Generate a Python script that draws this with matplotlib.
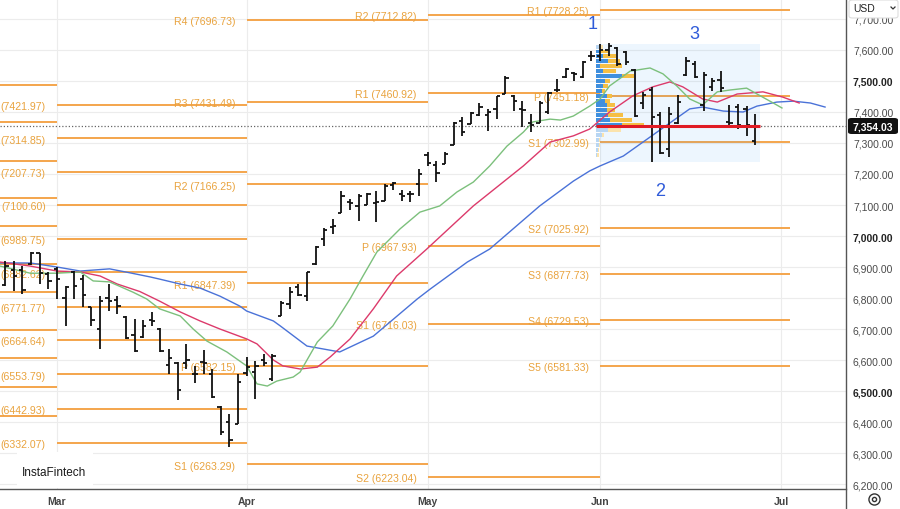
import matplotlib.pyplot as plt
from matplotlib.lines import Line2D
from matplotlib.patches import Rectangle, FancyBboxPatch

plt.rcParams['font.family'] = ['Liberation Sans', 'DejaVu Sans']

# bar index 0 = first trading day of March; negative = late February
bar_idx = list(range(-6, 82))
opens = [6842, 6890, 6890, 6910, 6945, 6878,
         6895, 6800, 6885, 6860, 6770, 6700, 6800, 6795, 6740, 6680, 6675, 6730, 6700, 6584, 6590, 6590,
         6555, 6594, 6555, 6450, 6400, 6394,
         6558, 6560, 6600, 6540, 6742, 6780, 6835, 6806, 6910, 6990, 7030, 7074, 7110, 7097, 7100, 7106,
         7113, 7165, 7135, 7135, 7168,
         7260, 7230, 7232, 7294, 7370, 7361, 7390, 7390, 7410, 7458, 7452, 7410, 7365, 7364, 7400, 7470,
         7513, 7525, 7513, 7580,
         7580, 7600, 7605, 7595, 7535, 7430, 7470, 7390, 7280, 7365, 7519, 7555, 7423, 7480, 7503, 7368,
         7416, 7410, 7306]
highs = [6919, 6919, 6903, 6950, 6945, 6885,
         6900, 6839, 6887, 6875, 6771, 6806, 6845, 6806, 6742, 6732, 6729, 6755, 6703, 6635, 6594, 6652,
         6581, 6632, 6571, 6452, 6426, 6555,
         6610, 6597, 6619, 6619, 6790, 6835, 6845, 6884, 6968, 7026, 7055, 7145, 7120, 7135, 7139, 7145,
         7168, 7174, 7148, 7145, 7216,
         7271, 7242, 7271, 7368, 7384, 7400, 7429, 7410, 7452, 7516, 7455, 7435, 7394, 7435, 7465, 7507,
         7542, 7529, 7565, 7597,
         7620, 7623, 7610, 7597, 7539, 7465, 7481, 7400, 7416, 7455, 7577, 7565, 7529, 7510, 7532, 7423,
         7426, 7420, 7394]
lows = [6839, 6822, 6813, 6905, 6845, 6830,
        6797, 6710, 6797, 6770, 6710, 6635, 6758, 6748, 6668, 6626, 6671, 6710, 6626, 6555, 6471, 6571,
        6526, 6555, 6477, 6358, 6319, 6394,
        6548, 6474, 6581, 6532, 6742, 6765, 6806, 6790, 6906, 6968, 7006, 7074, 7084, 7048, 7100, 7045,
        7113, 7148, 7113, 7110, 7129,
        7226, 7174, 7232, 7294, 7323, 7361, 7387, 7339, 7377, 7458, 7403, 7352, 7335, 7364, 7394, 7464,
        7510, 7500, 7510, 7565,
        7565, 7580, 7548, 7552, 7384, 7410, 7239, 7264, 7255, 7361, 7516, 7510, 7403, 7468, 7465, 7352,
        7345, 7323, 7294]
closes = [6903, 6870, 6826, 6945, 6880, 6855,
          6860, 6835, 6840, 6810, 6730, 6790, 6790, 6775, 6670, 6630, 6710, 6725, 6630, 6606, 6503, 6600,
          6555, 6590, 6480, 6368, 6342, 6529,
          6577, 6580, 6590, 6612, 6784, 6820, 6810, 6884, 6966, 7020, 7032, 7130, 7108, 7129, 7135, 7110,
          7162, 7170, 7130, 7135, 7200,
          7235, 7203, 7265, 7365, 7335, 7397, 7416, 7400, 7450, 7510, 7435, 7405, 7358, 7430, 7460, 7472,
          7538, 7523, 7562, 7580,
          7600, 7612, 7555, 7560, 7387, 7455, 7385, 7268, 7392, 7432, 7565, 7513, 7520, 7500, 7477, 7365,
          7358, 7358, 7354]
last_price = 7354.03

# Alligator lines (bar index, value)
jaw_x = [-6.6, -3.1, 0, 2.7, 6.1, 8.5, 10.8, 11.9, 14.3, 16.6, 18.9, 21.2, 22.0, 25.1, 25.9, 29.0, 32.8,
         36.7, 41.8, 43.3, 47.6, 50.2, 56.0, 59.9, 61.8, 63.0, 65.7, 69.6, 73.4, 74.9, 77.3, 79.6, 81.2,
         83.5, 85.4, 87.4, 89.1]
jaw_y = [6913, 6913, 6900, 6887, 6894, 6881, 6868, 6861, 6845, 6832, 6806, 6774, 6758, 6726, 6710, 6645,
         6626, 6677, 6797, 6829, 6916, 6958, 7097, 7177, 7210, 7226, 7258, 7335, 7410, 7416, 7403, 7400,
         7419, 7432, 7435, 7429, 7416]
teeth_x = [-6.6, -3.1, 0, 2.7, 5.0, 7.0, 9.6, 11.9, 14.3, 16.6, 18.9, 22.0, 23.2, 25.1, 26.2, 28.2, 30.2,
           31.7, 34.0, 36.7, 39.4, 42.9, 48.3, 54.1, 57.2, 59.9, 61.8, 64.1, 66.8, 69.1, 71.1, 72.6, 74.9,
           76.6, 78.9, 81.9, 84.2, 86.1]
teeth_y = [6916, 6903, 6887, 6884, 6871, 6845, 6821, 6790, 6755, 6726, 6700, 6668, 6652, 6600, 6581, 6571,
           6577, 6610, 6668, 6765, 6871, 6958, 7097, 7226, 7303, 7323, 7345, 7400, 7452, 7481, 7497, 7481,
           7442, 7432, 7458, 7465, 7448, 7429]
lips_x = [-6.6, -3.1, 0, 2.7, 4.2, 6.1, 8.8, 10.4, 11.9, 14.3, 15.8, 17.4, 19.7, 22.0, 23.2, 24.4, 25.5,
          27.4, 28.2, 30.2, 32.0, 34.0, 35.5, 37.1, 39.8, 42.1, 44.4, 46.4, 48.3, 50.2, 52.2, 54.1, 55.2,
          57.2, 58.4, 59.9, 61.8, 63.0, 64.1, 66.5, 68.8, 70.3, 71.9, 73.4, 74.9, 76.6, 78.1, 80.0, 81.6,
          82.9, 84.1]
lips_y = [6903, 6880, 6880, 6884, 6855, 6852, 6819, 6797, 6765, 6742, 6700, 6661, 6626, 6581, 6523, 6516,
          6532, 6545, 6561, 6658, 6710, 6797, 6871, 6948, 7023, 7077, 7097, 7142, 7174, 7226, 7290, 7335,
          7368, 7377, 7374, 7387, 7419, 7442, 7484, 7532, 7542, 7523, 7484, 7442, 7423, 7465, 7471, 7477,
          7452, 7432, 7413]

# monthly pivot levels: first bar index of each period
month_start = {'Feb': -30, 'Mar': 0, 'Apr': 22, 'May': 43, 'Jun': 63, 'Jul': 84}
jun_end = 85
piv_feb = [7487, 7368, 7242, 7123, 7032, 6910, 6819, 6697, 6606, 6513, 6419]
# March level names sit off the left edge, only the values show
piv_mar = [7421.97, 7314.85, 7207.73, 7100.60, 6989.75, 6882.62, 6771.77, 6664.64, 6553.79, 6442.93, 6332.07]
piv_apr_names = ['R4', 'R3', 'R2', 'R1', 'P', 'S1']
piv_apr = [7696.73, 7431.49, 7166.25, 6847.39, 6582.15, 6263.29]
piv_may_names = ['R2', 'R1', 'P', 'S1', 'S2']
piv_may = [7712.82, 7460.92, 6967.93, 6716.03, 6223.04]
piv_jun_names = ['R1', 'P', 'S1', 'S2', 'S3', 'S4', 'S5']
piv_jun = [7728.25, 7451.18, 7302.99, 7025.92, 6877.73, 6729.53, 6581.33]

# June volume profile, rows from top to bottom
vp_top, vp_bottom = 7619, 7239
vp_up = [3, 4, 7, 12, 4, 7, 26, 9, 7, 6, 11, 9, 11, 11, 12, 14, 26, 12, 6, 3, 3, 2, 1, 0]
vp_down = [4, 8, 13, 12, 22, 13, 12, 5, 5, 3, 5, 5, 8, 8, 15, 22, 22, 13, 2, 1, 1, 1, 2, 0]
vp_value_area = (1, 16)
vp_poc = 7355

months = ['Mar', 'Apr', 'May', 'Jun', 'Jul']
y_ticks = [6200, 6300, 6400, 6500, 6600, 6700, 6800, 6900, 7000, 7100, 7200, 7300, 7400, 7500, 7600, 7700]

W, H = 900, 510
fig = plt.figure(figsize=(W / 100, H / 100), dpi=100)
ax = fig.add_axes([0, 20 / H, 846 / W, 490 / H])
ax.set_xlim(-6.61, 91.53)
ax.set_ylim(6183.9, 7764.5)
for s in ax.spines.values():
    s.set_visible(False)

# grid
for v in y_ticks:
    ax.axhline(v, color='#ececec', lw=0.8, zorder=0)
for m in months:
    ax.axvline(month_start[m], color='#ececec', lw=0.8, zorder=0)

# pivots
piv_line = '#f4a54c'
piv_text = '#e9a33e'


def draw_pivots(start, end, vals, names=None, labels=True):
    ax.hlines(vals, start, end, color=piv_line, lw=1.4, zorder=1)
    if not labels:
        return
    for i, v in enumerate(vals):
        txt = f'({v:.2f})' if names is None else f'{names[i]} ({v:.2f})'
        ax.text(start - 1.3, v - 4, txt, ha='right', va='center',
                fontsize=7.6, color=piv_text, zorder=1.5, clip_on=True)


draw_pivots(month_start['Feb'], month_start['Mar'], piv_feb, labels=False)
draw_pivots(month_start['Mar'], month_start['Apr'], piv_mar)
draw_pivots(month_start['Apr'], month_start['May'], piv_apr, piv_apr_names)
draw_pivots(month_start['May'], month_start['Jun'], piv_may, piv_may_names)
draw_pivots(month_start['Jun'], jun_end, piv_jun, piv_jun_names)

# volume profile
ax.add_patch(Rectangle((63.0, vp_bottom), 81.6 - 63.0, vp_top - vp_bottom,
                       facecolor='#2196f3', alpha=0.08, lw=0, zorder=2))
n_rows = len(vp_up)
row_h = (vp_top - vp_bottom) / n_rows
scale = 5.6 / max(u + d for u, d in zip(vp_up, vp_down))
x0 = 62.55
for k, (u, d) in enumerate(zip(vp_up, vp_down)):
    yc = vp_top - (k + 0.5) * row_h
    in_va = vp_value_area[0] <= k <= vp_value_area[1]
    cu = '#3f8fde' if in_va else '#b8d6f3'
    cd = '#f5bf45' if in_va else '#fbe3ad'
    ax.barh(yc, u * scale, left=x0, height=row_h * 0.8, color=cu, lw=0, zorder=2.5)
    ax.barh(yc, d * scale, left=x0 + u * scale, height=row_h * 0.8, color=cd, lw=0, zorder=2.5)

# alligator
ax.plot(jaw_x, jaw_y, color='#4a72d8', lw=1.0, zorder=3)
ax.plot(teeth_x, teeth_y, color='#dc3a6b', lw=1.0, zorder=3)
ax.plot(lips_x, lips_y, color='#7cc07c', lw=1.0, zorder=3)

# OHLC bars
tick = 0.38
ax.vlines(bar_idx, lows, highs, color='#111111', lw=1.3, zorder=4)
ax.hlines(opens, [i - tick for i in bar_idx], bar_idx, color='#111111', lw=1.3, zorder=4)
ax.hlines(closes, bar_idx, [i + tick for i in bar_idx], color='#111111', lw=1.3, zorder=4)

# last price + POC
ax.axhline(last_price, color='#666666', lw=0.9, ls=(0, (1, 1.6)), zorder=3.5)
ax.hlines(vp_poc, x0, 81.6, color='#e01b24', lw=2.2, zorder=4.5)

# wave numbers
for txt, xi, yv in [('1', 62.1, 7684), ('2', 70.0, 7148), ('3', 73.9, 7652)]:
    ax.text(xi, yv, txt, color='#2f5bd9', fontsize=13, ha='center', va='center', zorder=6)

# axes ticks
ax.yaxis.tick_right()
ax.set_yticks(y_ticks)
ax.set_yticklabels([f'{v:,.2f}' for v in y_ticks])
ax.tick_params(axis='y', length=0, pad=5, labelsize=7.5, labelcolor='#4a4a4a')
for lab, v in zip(ax.get_yticklabels(), y_ticks):
    if v % 500 == 0:
        lab.set_fontweight('bold')
        lab.set_color('#222222')
ax.set_xticks([month_start[m] for m in months])
ax.set_xticklabels(months)
ax.tick_params(axis='x', length=0, pad=5, labelsize=7.5, labelcolor='#444444')
for lab in ax.get_xticklabels():
    lab.set_fontweight('bold')


def fx(px):
    return px / W


def fy(py):
    return 1 - py / H


# frame lines
fig.add_artist(Line2D([fx(846), fx(846)], [0, 1], color='#555555', lw=1.0))
fig.add_artist(Line2D([0, fx(846)], [fy(490), fy(490)], color='#555555', lw=1.0))

# price label
fig.add_artist(FancyBboxPatch((fx(848), fy(135)), fx(50), 16 / H,
                              boxstyle='round,pad=0,rounding_size=0.004',
                              facecolor='#111111', edgecolor='none'))
fig.text(fx(873), fy(127), f'{last_price:,.2f}', color='white', fontsize=7.5,
         fontweight='bold', ha='center', va='center')

# USD box (sits over the top tick label, as in the app)
fig.add_artist(FancyBboxPatch((fx(849), fy(19)), fx(49), 18 / H,
                              boxstyle='round,pad=0,rounding_size=0.004',
                              facecolor='white', edgecolor='#dddddd', lw=0.8, zorder=5))
fig.text(fx(853), fy(9), 'USD', color='#222222', fontsize=7.5, ha='left', va='center', zorder=6)
fig.add_artist(Line2D([fx(891), fx(893), fx(895)], [fy(8), fy(10), fy(8)], color='#333333', lw=0.9, zorder=6))

# gear icon
fig.add_artist(Line2D([fx(874)], [fy(500)], marker='o', markersize=8, mfc='none', mec='#333333', mew=1.0))
fig.add_artist(Line2D([fx(874)], [fy(500)], marker='o', markersize=3, mfc='none', mec='#333333', mew=1.0))

# watermark
fig.add_artist(Rectangle((fx(17), fy(489)), fx(76), 36 / H, facecolor='white', edgecolor='none'))
fig.text(fx(22), fy(473), 'InstaFintech', color='#1a1a1a', fontsize=8.5, ha='left', va='center')

fig.savefig('out.png', dpi=100)
